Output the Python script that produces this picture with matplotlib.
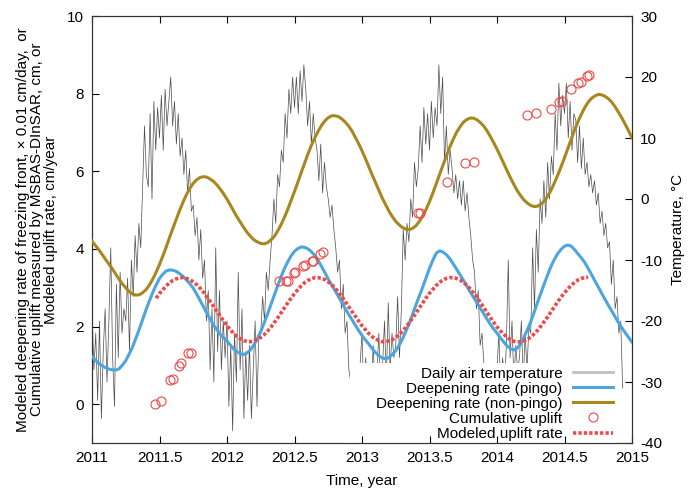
import numpy as np
import matplotlib
matplotlib.use("Agg")
import matplotlib.pyplot as plt
from matplotlib.lines import Line2D
from matplotlib.patches import Rectangle
from matplotlib.ticker import FuncFormatter

plt.rcParams['font.family'] = ['Liberation Sans', 'DejaVu Sans']
plt.rcParams['axes.unicode_minus'] = False

# ---------------- data ----------------
# daily air temperature (deg C), sampled ~5 days (6 per month), read from the picture
temp_2011 = [-18, -28, -22, -33, -20, -36,  -25, -18, -30, -20, -8, -26,
             -34, -14, -26, -12, -22, -18,  -20, -13, -25, -10, -16, -6,
             -12, -4, -8, 2, 12, 4,          2, 14, 0, 16, 8, 15,
             10, 17, 8, 18, 12, 16,          20, 12, 16, 9, 14, 7,
             10, 4, 8, 1, 5, -2,             -1, -6, -3, -10, -5, -13,
             -10, -20, -15, -28, -18, -30,   -8, -25, -15, -28, -20, -26]
temp_2012 = [-20, -34, -24, -38, -22, -30,  -12, -28, -18, -36, -25, -33,
             -24, -36, -28, -20, -34, -22,  -22, -16, -20, -12, -15, -10,
             -6, 0, -4, 4, 2, 8,             6, 14, 10, 18, 14, 20,
             15, 20, 14, 21, 16, 22,         18, 12, 16, 9, 14, 10,
             8, 3, 9, 1, 6, 2,               0, -3, -1, -5, -8, -12,
             -10, -18, -14, -22, -20, -28,   -30, -27, -34, -28, -32, -27]
temp_2013 = [-22, -32, -26, -35, -28, -30,  -24, -32, -28, -22, -33, -27,
             -20, -30, -17, -28, -22, -26,  -24, -16, -26, -18, -5, -10,
             -4, -7, 0, -3, 6, 2,            5, 12, 6, 15, 9, 14,
             8, 16, 10, 15, 12, 22,          14, 20, 6, 12, 4, 8,
             5, 1, 4, 0, 3, -1,              3, -2, 1, -3, -6, -10,
             -12, -18, -15, -24, -22, -27,   -30, -27, -33, -28, -35, -29]
temp_2014 = [-28, -22, -32, -26, -30, -24,  -10, -26, -20, -30, -24, -28,
             -26, -20, -30, -22, -28, -21,  -22, -8, -18, -5, -12, 0,
             -4, 3, -3, 6, 0, 7,             4, 14, 8, 19, 12, 17,
             14, 19, 10, 16, 8, 14,          13, 6, 12, 5, 10, 4,
             6, 2, 4, 1, 3, -1,              1, -4, -2, -6, -4, -8,
             -7, -14, -10, -18, -16, -22,    -20, -31]
temp_values = temp_2011 + temp_2012 + temp_2013 + temp_2014
temp_step = 1 / 72          # years between samples
temp_start = 2011.0

# modeled deepening rate (x 0.01 cm/day), read every 0.025 year from 2011.0 to 2015.0
curve_start = 2011.0
curve_step = 0.025
pingo_rate = [
    1.23, 1.135, 1.05, 0.99, 0.94, 0.905, 0.885, 0.88, 0.91, 1.005,
    1.12, 1.29, 1.47, 1.70, 1.93, 2.18, 2.43, 2.66, 2.88, 3.07,
    3.24, 3.35, 3.43, 3.46, 3.45, 3.42, 3.36, 3.29, 3.20, 3.10,
    2.99, 2.84, 2.68, 2.515, 2.35, 2.195, 2.04, 1.92, 1.80, 1.71,
    1.63, 1.52, 1.42, 1.35, 1.30, 1.28, 1.32, 1.41, 1.53, 1.69,
    1.87, 2.09, 2.32, 2.565, 2.81, 3.05, 3.28, 3.49, 3.67, 3.82,
    3.94, 4.01, 4.05, 4.04, 4.00, 3.93, 3.83, 3.70, 3.55, 3.39,
    3.22, 3.07, 2.93, 2.78, 2.62, 2.47, 2.32, 2.18, 2.04, 1.90,
    1.77, 1.655, 1.55, 1.43, 1.33, 1.25, 1.19, 1.17, 1.20, 1.28,
    1.38, 1.52, 1.68, 1.88, 2.08, 2.32, 2.56, 2.79, 3.02, 3.26,
    3.50, 3.71, 3.89, 3.95, 3.92, 3.85, 3.75, 3.62, 3.48, 3.34,
    3.20, 3.05, 2.90, 2.76, 2.62, 2.48, 2.34, 2.20, 2.06, 1.94,
    1.83, 1.71, 1.60, 1.50, 1.43, 1.40, 1.44, 1.55, 1.73, 1.92,
    2.12, 2.37, 2.62, 2.86, 3.10, 3.33, 3.55, 3.73, 3.88, 3.99,
    4.07, 4.10, 4.07, 3.98, 3.87, 3.77, 3.65, 3.50, 3.34, 3.18,
    3.02, 2.86, 2.70, 2.55, 2.40, 2.25, 2.10, 1.97, 1.84, 1.72,
    1.60]
nonpingo_rate = [
    4.20, 4.09, 3.98, 3.855, 3.73, 3.61, 3.49, 3.355, 3.22, 3.10,
    3.00, 2.90, 2.84, 2.81, 2.82, 2.87, 2.95, 3.07, 3.22, 3.40,
    3.60, 3.82, 4.05, 4.30, 4.54, 4.77, 5.00, 5.21, 5.40, 5.56,
    5.69, 5.78, 5.84, 5.86, 5.85, 5.80, 5.74, 5.65, 5.54, 5.42,
    5.28, 5.13, 4.97, 4.82, 4.68, 4.545, 4.42, 4.32, 4.23, 4.18,
    4.14, 4.13, 4.16, 4.23, 4.32, 4.46, 4.62, 4.81, 5.02, 5.25,
    5.48, 5.72, 5.97, 6.21, 6.45, 6.67, 6.86, 7.03, 7.18, 7.30,
    7.38, 7.43, 7.43, 7.41, 7.35, 7.27, 7.17, 7.04, 6.88, 6.71,
    6.53, 6.33, 6.12, 5.91, 5.71, 5.51, 5.31, 5.14, 4.97, 4.83,
    4.71, 4.62, 4.55, 4.51, 4.50, 4.53, 4.60, 4.71, 4.85, 5.02,
    5.22, 5.44, 5.68, 5.92, 6.16, 6.39, 6.62, 6.82, 7.00, 7.14,
    7.26, 7.33, 7.37, 7.37, 7.33, 7.26, 7.17, 7.05, 6.90, 6.74,
    6.57, 6.39, 6.20, 6.01, 5.83, 5.66, 5.50, 5.37, 5.26, 5.18,
    5.12, 5.09, 5.10, 5.15, 5.23, 5.36, 5.51, 5.70, 5.90, 6.12,
    6.35, 6.59, 6.83, 7.06, 7.28, 7.47, 7.64, 7.78, 7.88, 7.94,
    7.98, 7.97, 7.93, 7.87, 7.78, 7.66, 7.52, 7.37, 7.21, 7.04,
    6.86]

# modeled uplift rate (cm/year), read every 0.025 year from 2011.475 to 2014.675
uplift_start = 2011.475
uplift_step = 0.025
uplift_rate = [
    2.73, 2.85, 2.95, 3.05, 3.13, 3.19, 3.23, 3.26, 3.26, 3.24,
    3.21, 3.15, 3.08, 2.99, 2.89, 2.77, 2.65, 2.52, 2.39, 2.27,
    2.14, 2.02, 1.92, 1.82, 1.74, 1.68, 1.64, 1.61, 1.61, 1.63,
    1.66, 1.72, 1.79, 1.88, 1.98, 2.10, 2.22, 2.35, 2.48, 2.61,
    2.73, 2.85, 2.95, 3.05, 3.13, 3.19, 3.23, 3.26, 3.26, 3.24,
    3.21, 3.15, 3.08, 2.99, 2.89, 2.77, 2.65, 2.52, 2.39, 2.27,
    2.14, 2.02, 1.92, 1.82, 1.74, 1.68, 1.64, 1.61, 1.61, 1.63,
    1.66, 1.72, 1.79, 1.88, 1.98, 2.10, 2.22, 2.35, 2.48, 2.61,
    2.74, 2.86, 2.96, 3.06, 3.14, 3.20, 3.24, 3.26, 3.26, 3.24,
    3.20, 3.14, 3.07, 2.98, 2.87, 2.76, 2.63, 2.50, 2.37, 2.24,
    2.11, 1.99, 1.89, 1.80, 1.72, 1.66, 1.62, 1.60, 1.61, 1.63,
    1.67, 1.73, 1.81, 1.90, 2.01, 2.13, 2.25, 2.38, 2.51, 2.64,
    2.76, 2.87, 2.97, 3.06, 3.14, 3.20, 3.24, 3.26, 3.27]

# cumulative uplift measured by MSBAS-DInSAR (cm)
cum_years = [2011.464, 2011.511, 2011.575, 2011.597, 2011.642, 2011.662, 2011.709, 2011.731,
             2012.388, 2012.437, 2012.452, 2012.497, 2012.507, 2012.561, 2012.576, 2012.627,
             2012.639, 2012.689, 2012.709,
             2013.417, 2013.430, 2013.627, 2013.762, 2013.826,
             2014.220, 2014.286, 2014.398, 2014.459, 2014.484, 2014.548, 2014.598, 2014.620,
             2014.664, 2014.684]
cum_uplift = [0.00, 0.09, 0.63, 0.66, 0.99, 1.07, 1.31, 1.33,
              3.18, 3.17, 3.17, 3.37, 3.40, 3.57, 3.59, 3.69,
              3.70, 3.88, 3.91,
              4.92, 4.92, 5.73, 6.21, 6.25,
              7.45, 7.51, 7.60, 7.78, 7.80, 8.11, 8.27, 8.29,
              8.45, 8.49]

labels = ["Daily air temperature", "Deepening rate (pingo)", "Deepening rate (non-pingo)",
          "Cumulative uplift", "Modeled uplift rate"]
x_ticks = [2011, 2011.5, 2012, 2012.5, 2013, 2013.5, 2014, 2014.5, 2015]
left_ticks = [0, 2, 4, 6, 8, 10]
right_ticks = [-40, -30, -20, -10, 0, 10, 20, 30]

# ---------------- style ----------------
c_temp = '#4c4c4c'
c_blue = '#4ca5dd'
c_olive = '#a8871f'
c_red = '#f04848'
c_axis = '#333333'
red_dots = (0, (0.9, 0.6))

fig = plt.figure(figsize=(6.89, 4.93), dpi=100)
ax = fig.add_axes([92/689, 1 - 443/493, 540/689, 427/493])
ax2 = ax.twinx()
ax.set_zorder(ax2.get_zorder() + 1)
ax.patch.set_visible(False)

temp_years = temp_start + np.arange(len(temp_values)) * temp_step
curve_years = curve_start + np.arange(len(pingo_rate)) * curve_step
uplift_years = uplift_start + np.arange(len(uplift_rate)) * uplift_step

ax2.plot(temp_years, temp_values, color=c_temp, lw=0.5)

ax.plot(curve_years, pingo_rate, color=c_blue, lw=2.2, zorder=3, solid_joinstyle='round')
ax.plot(curve_years[:len(nonpingo_rate)], nonpingo_rate, color=c_olive, lw=2.2, zorder=3,
        solid_joinstyle='round')
ax.plot(uplift_years, uplift_rate, color=c_red, lw=2.6, ls=red_dots, zorder=4)
ax.plot(cum_years, cum_uplift, ls='none', marker='o', ms=6.5, mfc='none', mec=c_red,
        mew=0.8, zorder=5)

# opaque legend area (covers the temperature trace, as in the original)
ax.add_patch(Rectangle(((350 - 92) / 540, 0), (616 - 350) / 540, (443 - 363) / 427,
                       transform=ax.transAxes, facecolor='white', edgecolor='none', zorder=1))

ax.set_xlim(2011, 2015)
ax.set_ylim(-1, 10)
ax2.set_ylim(-40, 30)
ax.set_xticks(x_ticks)
ax.xaxis.set_major_formatter(FuncFormatter(lambda v, p: f"{v:g}"))
ax.set_yticks(left_ticks)
ax2.set_yticks(right_ticks)

ax.tick_params(direction='in', length=5, width=0.8, top=True, right=False,
               labelsize=11, colors='black', pad=6)
ax2.tick_params(direction='in', length=5, width=0.8, labelsize=11, pad=6)
for a in (ax, ax2):
    for s in a.spines.values():
        s.set_color(c_axis)
        s.set_linewidth(0.8)

ax.set_xlabel("Time, year", fontsize=11, labelpad=6)
ax.set_ylabel("Modeled deepening rate of freezing front, \u00d7 0.01 cm/day,  or\n"
              "Cumulative uplift measured by MSBAS-DInSAR, cm, or\n"
              "Modeled uplift rate, cm/year", fontsize=11, linespacing=1.0, labelpad=6)
ax2.set_ylabel("Temperature, \u00b0C", fontsize=11, labelpad=6)

handles = [Line2D([], [], color='#c0c0c0', lw=2),
           Line2D([], [], color=c_blue, lw=2.2),
           Line2D([], [], color=c_olive, lw=2.2),
           Line2D([], [], ls='none', marker='o', ms=6.5, mfc='none', mec=c_red, mew=0.8),
           Line2D([], [], color=c_red, lw=2.6, ls=red_dots)]
leg = ax.legend(handles, labels, loc='lower right', bbox_to_anchor=((613 - 92) / 540, 0.005),
                markerfirst=False, frameon=False, fontsize=11, labelspacing=0.07,
                handlelength=2.6, handletextpad=0.7, borderpad=0.0, borderaxespad=0.0)
leg.set_zorder(6)

fig.savefig("out.png", dpi=100)
